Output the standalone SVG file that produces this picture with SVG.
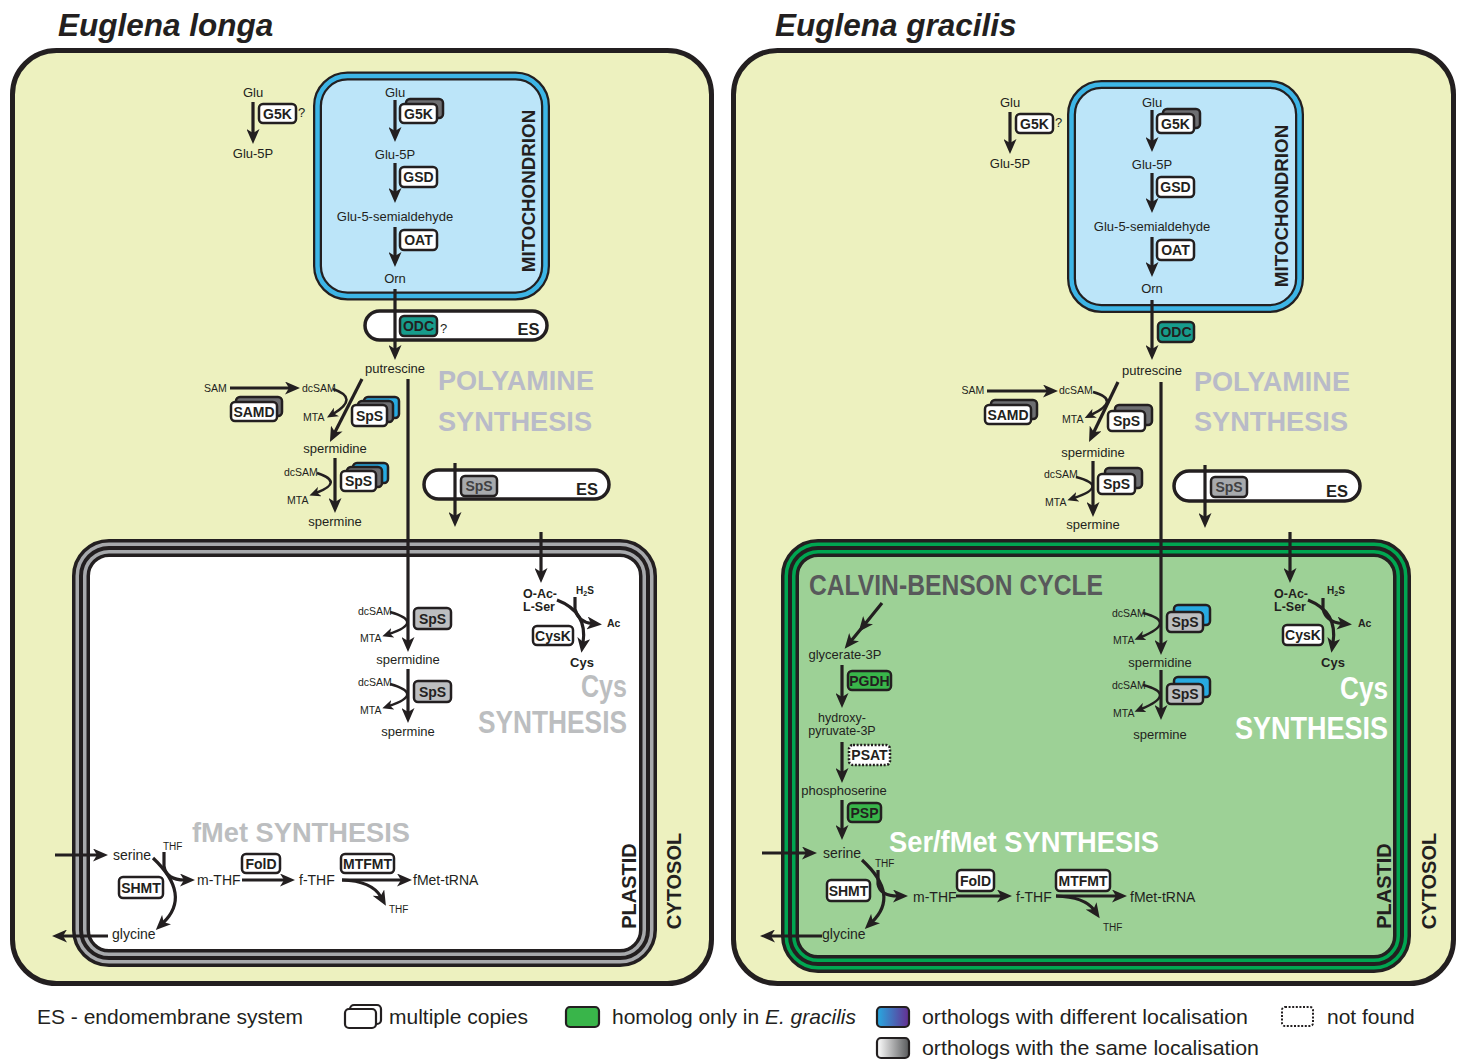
<svg xmlns="http://www.w3.org/2000/svg" width="1464" height="1061" viewBox="0 0 1464 1061">
<style>
  text { font-family: "Liberation Sans", Arial, sans-serif; fill: #231f20; }
  .m { font-size: 13px; }
  .c { text-anchor: middle; }
  .e { text-anchor: end; }
  .s { font-size: 10.5px; }
  .f { font-size: 14px; }
  .b { font-weight: bold; }
  .en { font-size: 14px; font-weight: bold; text-anchor: middle; }
  .lab { font-size: 20px; font-weight: bold; text-anchor: middle; }
  .leg { font-size: 21px; }
  .bx { stroke: #231f20; stroke-width: 2.5; }
  .w { fill: #ffffff; }
  .g { fill: #bcbec0; }
  .dg { fill: #6d6e71; }
  .bl { fill: #27aae1; }
  .gr { fill: #39b54a; }
  .ln { fill: none; stroke: #231f20; stroke-width: 3.2; marker-end: url(#ah); }
  .sl { fill: none; stroke: #231f20; stroke-width: 2.6; marker-end: url(#as); }
  .cell { fill: #edf1bf; stroke: #231f20; stroke-width: 5; }
  .es { fill: #ffffff; stroke: #231f20; stroke-width: 3.5; }
</style>
<defs>
  <marker id="ah" markerUnits="userSpaceOnUse" markerWidth="16" markerHeight="13" refX="5" refY="6.5" orient="auto">
    <path d="M0,0 L15,6.5 L0,13 L4,6.5 z" fill="#231f20"/>
  </marker>
  <marker id="as" markerUnits="userSpaceOnUse" markerWidth="12" markerHeight="10" refX="4" refY="5" orient="auto">
    <path d="M0,0 L11,5 L0,10 L3,5 z" fill="#231f20"/>
  </marker>
  <linearGradient id="gBP" x1="0" y1="0" x2="1" y2="0">
    <stop offset="0" stop-color="#27aae1"/>
    <stop offset="1" stop-color="#662d91"/>
  </linearGradient>
  <linearGradient id="gGr" x1="0" y1="0" x2="1" y2="0">
    <stop offset="0" stop-color="#ffffff"/>
    <stop offset="1" stop-color="#58595b"/>
  </linearGradient>
</defs>

<!-- ===== cells ===== -->
<g id="cell-longa">
  <rect class="cell" x="12.5" y="50.5" width="699" height="933" rx="44"/>
  <text x="58" y="36" font-size="31.5" font-weight="bold" font-style="italic">Euglena longa</text>
</g>
<g id="cell-gracilis">
  <rect class="cell" x="733.5" y="50.5" width="720" height="933" rx="44"/>
  <text x="775" y="36" font-size="31.5" font-weight="bold" font-style="italic">Euglena gracilis</text>
</g>

<!-- ===== compartments, E. longa ===== -->
<g id="mito-longa">
  <rect x="317.5" y="76" width="228" height="220" rx="30" fill="#bce5f9" stroke="#231f20" stroke-width="9"/>
  <rect x="317.5" y="76" width="228" height="220" rx="30" fill="none" stroke="#3db5e6" stroke-width="4.5"/>
  <text class="b" font-size="18.8" text-anchor="middle" transform="translate(535,191) rotate(-90)">MITOCHONDRION</text>
</g>
<g id="es1-longa">
  <rect class="es" x="365" y="311" width="182" height="29" rx="14.5"/>
  <text class="b c" x="528.5" y="335" font-size="16.5">ES</text>
</g>
<g id="es2-longa">
  <rect class="es" x="424" y="470" width="185" height="29" rx="14.5"/>
  <text class="b e" x="598" y="495" font-size="16.5">ES</text>
</g>
<g id="plastid-longa">
  <rect x="81" y="548" width="567" height="410" rx="28" fill="#ffffff" stroke="#231f20" stroke-width="18"/>
  <rect x="81" y="548" width="567" height="410" rx="28" fill="none" stroke="#a7a9ac" stroke-width="11"/>
  <rect x="81" y="548" width="567" height="410" rx="28" fill="none" stroke="#231f20" stroke-width="4"/>
  <text class="lab" transform="translate(636,886) rotate(-90)">PLASTID</text>
</g>
<text class="lab" transform="translate(681,881) rotate(-90)">CYTOSOL</text>

<!-- ===== compartments, E. gracilis ===== -->
<g id="mito-gracilis">
  <rect x="1071.5" y="84.5" width="228" height="224" rx="30" fill="#bce5f9" stroke="#231f20" stroke-width="9"/>
  <rect x="1071.5" y="84.5" width="228" height="224" rx="30" fill="none" stroke="#3db5e6" stroke-width="4.5"/>
  <text class="b" font-size="18.8" text-anchor="middle" transform="translate(1288,206) rotate(-90)">MITOCHONDRION</text>
</g>
<g id="es-gracilis">
  <rect class="es" x="1174" y="471" width="186" height="30" rx="15"/>
  <text class="b e" x="1348" y="497" font-size="16.5">ES</text>
</g>
<g id="plastid-gracilis">
  <rect x="790" y="548" width="612" height="416" rx="28" fill="#9dd196" stroke="#231f20" stroke-width="18"/>
  <rect x="790" y="548" width="612" height="416" rx="28" fill="none" stroke="#00a651" stroke-width="11"/>
  <rect x="790" y="548" width="612" height="416" rx="28" fill="none" stroke="#231f20" stroke-width="4"/>
  <text class="lab" transform="translate(1391,886) rotate(-90)">PLASTID</text>
</g>
<text class="lab" transform="translate(1436,881) rotate(-90)">CYTOSOL</text>

<!-- ===== pathway titles ===== -->
<g id="titles" font-weight="bold">
  <text x="438" y="390" font-size="28" style="fill:#b9bbc8" textLength="156" lengthAdjust="spacingAndGlyphs">POLYAMINE</text>
  <text x="438" y="431" font-size="28" style="fill:#b9bbc8" textLength="154" lengthAdjust="spacingAndGlyphs">SYNTHESIS</text>
  <text x="627" y="697" font-size="31" text-anchor="end" style="fill:#bcbec0" textLength="46" lengthAdjust="spacingAndGlyphs">Cys</text>
  <text x="627" y="733" font-size="31" text-anchor="end" style="fill:#bcbec0" textLength="149" lengthAdjust="spacingAndGlyphs">SYNTHESIS</text>
  <text x="192" y="842" font-size="28" style="fill:#bcbec0" textLength="218" lengthAdjust="spacingAndGlyphs">fMet SYNTHESIS</text>

  <text x="1194" y="391" font-size="28" style="fill:#b9bbc8" textLength="156" lengthAdjust="spacingAndGlyphs">POLYAMINE</text>
  <text x="1194" y="431" font-size="28" style="fill:#b9bbc8" textLength="154" lengthAdjust="spacingAndGlyphs">SYNTHESIS</text>
  <text x="809" y="595" font-size="29" style="fill:#58595b" textLength="294" lengthAdjust="spacingAndGlyphs">CALVIN-BENSON CYCLE</text>
  <text x="1388" y="699" font-size="31" text-anchor="end" style="fill:#ffffff" textLength="48" lengthAdjust="spacingAndGlyphs">Cys</text>
  <text x="1388" y="739" font-size="31" text-anchor="end" style="fill:#ffffff" textLength="153" lengthAdjust="spacingAndGlyphs">SYNTHESIS</text>
  <text x="889" y="852" font-size="29" style="fill:#ffffff" textLength="270" lengthAdjust="spacingAndGlyphs">Ser/fMet SYNTHESIS</text>
</g>

<!-- ===== metabolites, E. longa ===== -->
<g id="metabolites-longa" class="m">
  <text class="c" x="253" y="97">Glu</text>
  <text class="c" x="253" y="158">Glu-5P</text>
  <text x="298" y="117">?</text>
  <text class="c" x="395" y="97">Glu</text>
  <text class="c" x="395" y="159">Glu-5P</text>
  <text class="c" x="395" y="221">Glu-5-semialdehyde</text>
  <text class="c" x="395" y="283">Orn</text>
  <text x="440" y="333">?</text>
  <text class="c" x="395" y="373">putrescine</text>
  <text class="s c" x="215.5" y="392">SAM</text>
  <text class="s" x="302" y="392">dcSAM</text>
  <text class="s" x="303" y="421">MTA</text>
  <text class="c" x="335" y="453">spermidine</text>
  <text class="s" x="284" y="476">dcSAM</text>
  <text class="s" x="287" y="504">MTA</text>
  <text class="c" x="335" y="526">spermine</text>
  <text class="s" x="358" y="615">dcSAM</text>
  <text class="s" x="360" y="642">MTA</text>
  <text class="c" x="408" y="664">spermidine</text>
  <text class="s" x="358" y="686">dcSAM</text>
  <text class="s" x="360" y="714">MTA</text>
  <text class="c" x="408" y="736">spermine</text>
  <text class="b" x="523" y="598" font-size="12.5">O-Ac-</text>
  <text class="b" x="523" y="611" font-size="12.5">L-Ser</text>
  <text class="b" x="576" y="594" font-size="10">H<tspan font-size="7" dy="1.5">2</tspan><tspan dy="-1.5">S</tspan></text>
  <text class="b" x="607" y="627" font-size="10.5">Ac</text>
  <text class="b c" x="582" y="667">Cys</text>
  <text class="f" x="113" y="860">serine</text>
  <text x="163" y="850" font-size="10">THF</text>
  <text class="f" x="197" y="885">m-THF</text>
  <text class="f" x="299" y="885">f-THF</text>
  <text class="f" x="413" y="885">fMet-tRNA</text>
  <text x="389" y="913" font-size="10">THF</text>
  <text class="f" x="112" y="939">glycine</text>
</g>

<!-- ===== metabolites, E. gracilis ===== -->
<g id="metabolites-gracilis" class="m">
  <text class="c" x="1010" y="107">Glu</text>
  <text class="c" x="1010" y="168">Glu-5P</text>
  <text x="1055" y="127">?</text>
  <text class="c" x="1152" y="107">Glu</text>
  <text class="c" x="1152" y="169">Glu-5P</text>
  <text class="c" x="1152" y="231">Glu-5-semialdehyde</text>
  <text class="c" x="1152" y="293">Orn</text>
  <text class="c" x="1152" y="375">putrescine</text>
  <text class="s c" x="973" y="394">SAM</text>
  <text class="s" x="1059" y="394">dcSAM</text>
  <text class="s" x="1062" y="423">MTA</text>
  <text class="c" x="1093" y="457">spermidine</text>
  <text class="s" x="1044" y="478">dcSAM</text>
  <text class="s" x="1045" y="506">MTA</text>
  <text class="c" x="1093" y="529">spermine</text>
  <text class="s" x="1112" y="617">dcSAM</text>
  <text class="s" x="1113" y="644">MTA</text>
  <text class="c" x="1160" y="667">spermidine</text>
  <text class="s" x="1112" y="689">dcSAM</text>
  <text class="s" x="1113" y="717">MTA</text>
  <text class="c" x="1160" y="739">spermine</text>
  <text class="b" x="1274" y="598" font-size="12.5">O-Ac-</text>
  <text class="b" x="1274" y="611" font-size="12.5">L-Ser</text>
  <text class="b" x="1327" y="594" font-size="10">H<tspan font-size="7" dy="1.5">2</tspan><tspan dy="-1.5">S</tspan></text>
  <text class="b" x="1358" y="627" font-size="10.5">Ac</text>
  <text class="b c" x="1333" y="667">Cys</text>
  <text class="c" x="845" y="659">glycerate-3P</text>
  <text class="c" x="842" y="722" font-size="12.5">hydroxy-</text>
  <text class="c" x="842" y="735" font-size="12.5">pyruvate-3P</text>
  <text class="c" x="844" y="795">phosphoserine</text>
  <text class="f" x="823" y="858">serine</text>
  <text x="875" y="867" font-size="10">THF</text>
  <text class="f" x="913" y="902">m-THF</text>
  <text class="f" x="1016" y="902">f-THF</text>
  <text class="f" x="1130" y="902">fMet-tRNA</text>
  <text x="1103" y="931" font-size="10">THF</text>
  <text class="f" x="822" y="939">glycine</text>
</g>

<!-- ===== connectors ===== -->
<g id="connectors">
  <!-- E. longa -->
  <path class="ln" d="M253,102 V134"/>
  <path class="ln" d="M395,100 V132"/>
  <path class="ln" d="M395,163 V193"/>
  <path class="ln" d="M395,227 V257"/>
  <path class="ln" d="M395,289 V350"/>
  <path class="ln" d="M230,388 H290"/>
  <path class="ln" d="M362,379 L334.5,433"/>
  <path class="sl" d="M333,389 Q360,398 333,414"/>
  <path class="ln" d="M335,458 V503"/>
  <path class="sl" d="M317,473 Q345,482 316,493"/>
  <path class="ln" d="M408,379 V642"/>
  <path class="sl" d="M390,612 Q425,622 389,634"/>
  <path class="ln" d="M408,669 V713"/>
  <path class="sl" d="M390,684 Q425,694 389,706"/>
  <path class="ln" d="M455,463 V517"/>
  <path class="ln" d="M541,532 V573"/>
  <path class="ln" d="M557,600 Q588,612 583,643"/>
  <path class="ln" d="M575,597 V609 Q578,622 592,623.5"/>
  <path class="ln" d="M55,855 H98"/>
  <path class="ln" d="M164,852 V866 Q166,880 185,880"/>
  <path class="ln" d="M153,858 Q192,895 163,923"/>
  <path class="ln" d="M242,880 H285"/>
  <path class="ln" d="M342,880 H402"/>
  <path class="ln" d="M342,880 Q372,881 381,897"/>
  <path class="ln" d="M108,936 H62"/>
  <!-- E. gracilis -->
  <path class="ln" d="M1010,112 V144"/>
  <path class="ln" d="M1152,110 V142"/>
  <path class="ln" d="M1152,173 V203"/>
  <path class="ln" d="M1152,237 V267"/>
  <path class="ln" d="M1152,300 V350"/>
  <path class="ln" d="M987,391 H1048"/>
  <path class="ln" d="M1118,382 L1093.4,433"/>
  <path class="sl" d="M1093,392 Q1122,400 1091,415"/>
  <path class="ln" d="M1093,461 V507"/>
  <path class="sl" d="M1076,477 Q1110,486 1074,498"/>
  <path class="ln" d="M1161,382 V645"/>
  <path class="sl" d="M1143,613 Q1178,622 1141,637"/>
  <path class="ln" d="M1161,670 V710"/>
  <path class="sl" d="M1143,685 Q1178,694 1141,709"/>
  <path class="ln" d="M1205,465 V518"/>
  <path class="ln" d="M1290,532 V573"/>
  <path class="ln" d="M1308,600 Q1338,612 1333,643"/>
  <path class="ln" d="M1323,598 V609 Q1326,622 1342,623.5"/>
  <path class="ln" d="M882,603 L865,624 L851,641" style="marker-mid:url(#ah)"/>
  <path class="ln" d="M842,665 V698"/>
  <path class="ln" d="M842,742 V773"/>
  <path class="ln" d="M842,800 V830"/>
  <path class="ln" d="M762,853 H807"/>
  <path class="ln" d="M878,870 V884 Q880,896 898,896"/>
  <path class="ln" d="M862,860 Q900,895 872,922"/>
  <path class="ln" d="M956,896 H1002"/>
  <path class="ln" d="M1056,896 H1117"/>
  <path class="ln" d="M1056,896 Q1085,897 1094,910"/>
  <path class="ln" d="M822,936 H770"/>
</g>

<!-- ===== enzymes, E. longa ===== -->
<g id="G5K-cyt-longa"><rect class="bx w" x="259" y="104" width="37" height="19" rx="4"/><text class="en" x="277.5" y="118.5">G5K</text></g>
<g id="G5K-mit-longa"><rect class="bx dg" x="406" y="99" width="37" height="19" rx="4"/><rect class="bx w" x="400" y="104" width="37" height="19" rx="4"/><text class="en" x="418.5" y="118.5">G5K</text></g>
<g id="GSD-longa"><rect class="bx w" x="400" y="167" width="37" height="20" rx="4"/><text class="en" x="418.5" y="182">GSD</text></g>
<g id="OAT-longa"><rect class="bx w" x="400" y="230" width="37" height="20" rx="4"/><text class="en" x="418.5" y="245">OAT</text></g>
<g id="ODC-longa"><rect class="bx" fill="#179c8c" x="400" y="316" width="37" height="20" rx="4"/><text class="en" x="418.5" y="331">ODC</text></g>
<g id="SAMD-longa"><rect class="bx dg" x="236" y="397" width="46" height="19" rx="4"/><rect class="bx w" x="231" y="402" width="46" height="19" rx="4"/><text class="en" x="254" y="416.5">SAMD</text></g>
<g id="SpS1-longa"><rect class="bx bl" x="364" y="397" width="35" height="21" rx="4"/><rect class="bx dg" x="358" y="401" width="35" height="21" rx="4"/><rect class="bx w" x="352" y="405" width="35" height="21" rx="4"/><text class="en" x="369.5" y="420.5">SpS</text></g>
<g id="SpS2-longa"><rect class="bx bl" x="353" y="463" width="35" height="20" rx="4"/><rect class="bx dg" x="347" y="467" width="35" height="20" rx="4"/><rect class="bx w" x="341" y="471" width="35" height="20" rx="4"/><text class="en" x="358.5" y="486">SpS</text></g>
<g id="SpS-es-longa"><rect class="bx" fill="#a7a9ac" x="461" y="476" width="36" height="20" rx="4"/><text class="en" x="479" y="491" style="fill:#414042">SpS</text></g>
<g id="SpS3-longa"><rect class="bx g" x="414" y="608" width="37" height="21" rx="4"/><text class="en" x="432.5" y="623.5">SpS</text></g>
<g id="SpS4-longa"><rect class="bx g" x="414" y="681" width="37" height="21" rx="4"/><text class="en" x="432.5" y="696.5">SpS</text></g>
<g id="CysK-longa"><rect class="bx w" x="533" y="626" width="40" height="19" rx="4"/><text class="en" x="553" y="640.5">CysK</text></g>
<g id="SHMT-longa"><rect class="bx w" x="119" y="877" width="44" height="21" rx="4"/><text class="en" x="141" y="892.5">SHMT</text></g>
<g id="FolD-longa"><rect class="bx w" x="242" y="854" width="38" height="19" rx="4"/><text class="en" x="261" y="868.5">FolD</text></g>
<g id="MTFMT-longa"><rect class="bx w" x="341" y="854" width="53" height="19" rx="4"/><text class="en" x="367.5" y="868.5">MTFMT</text></g>

<!-- ===== enzymes, E. gracilis ===== -->
<g id="G5K-cyt-gracilis"><rect class="bx w" x="1016" y="114" width="37" height="19" rx="4"/><text class="en" x="1034.5" y="128.5">G5K</text></g>
<g id="G5K-mit-gracilis"><rect class="bx dg" x="1163" y="109" width="37" height="19" rx="4"/><rect class="bx w" x="1157" y="114" width="37" height="19" rx="4"/><text class="en" x="1175.5" y="128.5">G5K</text></g>
<g id="GSD-gracilis"><rect class="bx w" x="1157" y="177" width="37" height="20" rx="4"/><text class="en" x="1175.5" y="192">GSD</text></g>
<g id="OAT-gracilis"><rect class="bx w" x="1157" y="240" width="37" height="20" rx="4"/><text class="en" x="1175.5" y="255">OAT</text></g>
<g id="ODC-gracilis"><rect class="bx" fill="#179c8c" x="1158" y="322" width="36" height="20" rx="4"/><text class="en" x="1176" y="337">ODC</text></g>
<g id="SAMD-gracilis"><rect class="bx dg" x="991" y="400" width="46" height="19" rx="4"/><rect class="bx w" x="985" y="405" width="46" height="19" rx="4"/><text class="en" x="1008" y="419.5">SAMD</text></g>
<g id="SpS1-gracilis"><rect class="bx dg" x="1115" y="405" width="37" height="20" rx="4"/><rect class="bx w" x="1108" y="411" width="37" height="20" rx="4"/><text class="en" x="1126.5" y="426">SpS</text></g>
<g id="SpS2-gracilis"><rect class="bx dg" x="1105" y="468" width="37" height="20" rx="4"/><rect class="bx w" x="1098" y="474" width="37" height="20" rx="4"/><text class="en" x="1116.5" y="489">SpS</text></g>
<g id="SpS-es-gracilis"><rect class="bx" fill="#a7a9ac" x="1211" y="477" width="36" height="20" rx="4"/><text class="en" x="1229" y="492" style="fill:#414042">SpS</text></g>
<g id="SpS3-gracilis"><rect class="bx bl" x="1174" y="605" width="36" height="20" rx="4"/><rect class="bx g" x="1167" y="612" width="36" height="20" rx="4"/><text class="en" x="1185" y="627">SpS</text></g>
<g id="SpS4-gracilis"><rect class="bx bl" x="1174" y="677" width="36" height="20" rx="4"/><rect class="bx g" x="1167" y="684" width="36" height="20" rx="4"/><text class="en" x="1185" y="699">SpS</text></g>
<g id="CysK-gracilis"><rect class="bx w" x="1283" y="625" width="40" height="20" rx="4"/><text class="en" x="1303" y="640">CysK</text></g>
<g id="PGDH"><rect class="bx gr" x="848" y="671" width="43" height="19" rx="4"/><text class="en" x="869.5" y="685.5">PGDH</text></g>
<g id="PSAT"><rect class="w" x="849" y="745" width="41" height="20" rx="4" stroke="#231f20" stroke-width="2.5" stroke-dasharray="2 1.6"/><text class="en" x="869.5" y="760">PSAT</text></g>
<g id="PSP"><rect class="bx gr" x="848" y="803" width="33" height="19" rx="4"/><text class="en" x="864.5" y="817.5">PSP</text></g>
<g id="SHMT-gracilis"><rect class="bx w" x="827" y="880" width="43" height="21" rx="4"/><text class="en" x="848.5" y="895.5">SHMT</text></g>
<g id="FolD-gracilis"><rect class="bx w" x="957" y="870" width="37" height="21" rx="4"/><text class="en" x="975.5" y="885.5">FolD</text></g>
<g id="MTFMT-gracilis"><rect class="bx w" x="1056" y="870" width="54" height="21" rx="4"/><text class="en" x="1083" y="885.5">MTFMT</text></g>

<!-- ===== legend ===== -->
<g id="legend">
  <text class="leg" x="37" y="1024">ES - endomembrane system</text>
  <rect x="350" y="1005" width="31" height="19" rx="4" fill="#ffffff" stroke="#231f20" stroke-width="2.2"/>
  <rect x="345" y="1009" width="31" height="19" rx="4" fill="#ffffff" stroke="#231f20" stroke-width="2.2"/>
  <text class="leg" x="389" y="1024">multiple copies</text>
  <rect x="566" y="1007" width="33" height="20" rx="4" fill="#39b54a" stroke="#231f20" stroke-width="2.2"/>
  <text class="leg" x="612" y="1024">homolog only in <tspan font-style="italic">E. gracilis</tspan></text>
  <rect x="877" y="1007" width="32" height="20" rx="4" fill="url(#gBP)" stroke="#231f20" stroke-width="2.2"/>
  <text class="leg" x="922" y="1024" textLength="326" lengthAdjust="spacingAndGlyphs">orthologs with different localisation</text>
  <rect x="1282" y="1007" width="31" height="19" rx="3" fill="none" stroke="#231f20" stroke-width="2" stroke-dasharray="2 1.6"/>
  <text class="leg" x="1327" y="1024">not found</text>
  <rect x="877" y="1038" width="32" height="20" rx="4" fill="url(#gGr)" stroke="#231f20" stroke-width="2.2"/>
  <text class="leg" x="922" y="1055" textLength="337" lengthAdjust="spacingAndGlyphs">orthologs with the same localisation</text>
</g>
</svg>
